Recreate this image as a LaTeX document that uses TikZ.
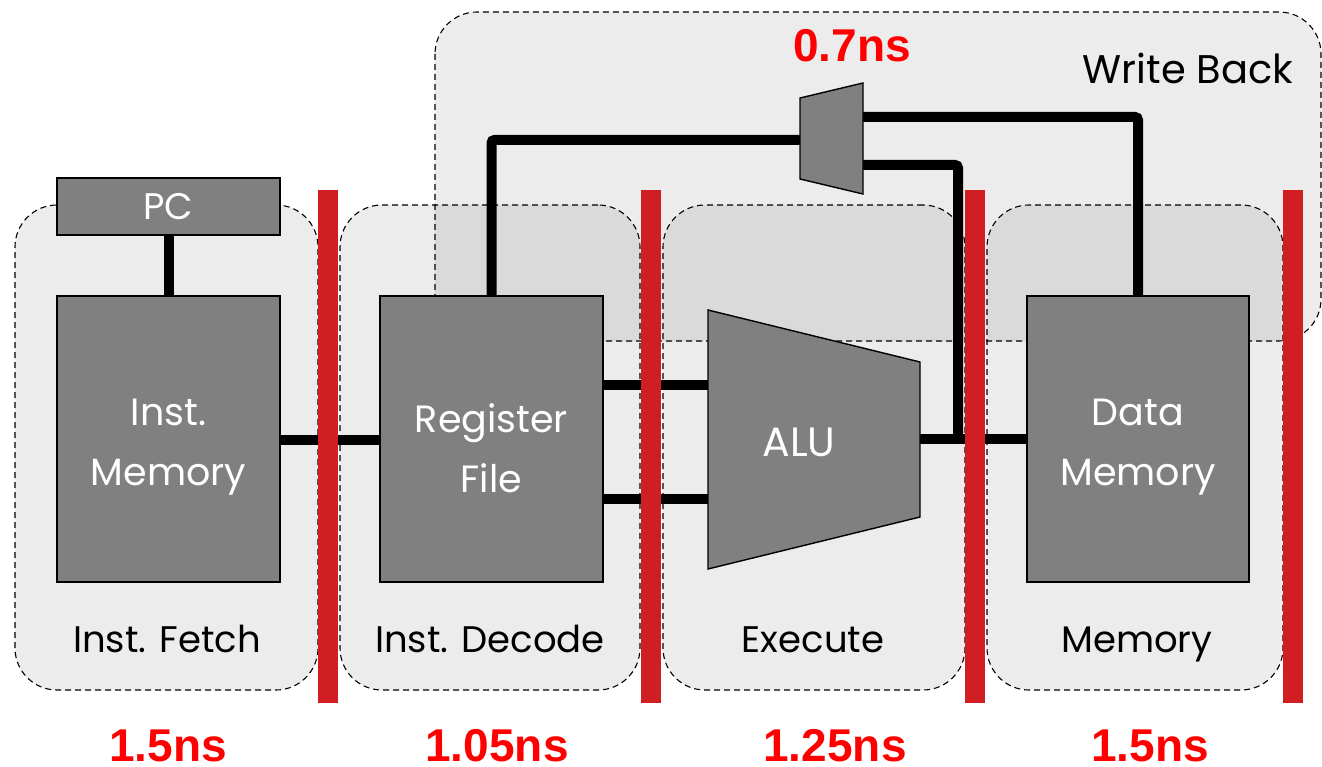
\documentclass[tikz,border=0pt]{standalone}
\usepackage{fontspec}
\setmainfont{Poppins}
\newfontfamily\timefont{Liberation Sans}
\definecolor{barred}{RGB}{208,30,35}
\definecolor{blockgray}{RGB}{128,128,128}
\definecolor{timered}{RGB}{255,0,0}
\begin{document}
\begin{tikzpicture}[x=1pt,y=-1pt,
  region/.style={draw=black, line width=1.1pt, dash pattern=on 6pt off 4pt,
    rounded corners=42pt, fill=black, fill opacity=0.075},
  block/.style={draw=black, line width=1.4pt, fill=blockgray, inner sep=0pt},
  blocktext/.style={text=white, align=center, inner sep=0pt, font=\fontsize{38}{60}\selectfont},
  latch/.style={fill=barred, draw=none, minimum width=20pt, minimum height=513pt, inner sep=0pt},
  wire/.style={line width=10pt, rounded corners=3pt},
  stagelabel/.style={anchor=base, inner sep=0pt, font=\fontsize{37}{40}\selectfont},
  timing/.style={anchor=base, inner sep=0pt, text=timered, font=\timefont\bfseries\fontsize{46}{50}\selectfont}
]
\useasboundingbox (0,0) rectangle (1322,767);

% write-back region and the four stage regions
\draw[region] (435,12) rectangle (1321,341);
\node[region, minimum width=303pt, minimum height=485pt] (ifr)  at (166.5,447.5) {};
\node[region, minimum width=300pt, minimum height=485pt] (idr)  at (490,447.5) {};
\node[region, minimum width=302pt, minimum height=485pt] (exr)  at (814,447.5) {};
\node[region, minimum width=296pt, minimum height=485pt] (memr) at (1135,447.5) {};

% stage names
\node[stagelabel, font=\fontsize{40}{44}\selectfont] (wbl) at (1188,84) {Write Back};
\node[stagelabel] (ifl)  at (167,652) {Inst. Fetch};
\node[stagelabel] (idl)  at (490,652) {Inst. Decode};
\node[stagelabel] (exl)  at (813,652) {Execute};
\node[stagelabel] (meml) at (1137,652) {Memory};

% ALU ports
\coordinate (alu-in1) at (708,385);
\coordinate (alu-in2) at (708,499);
\coordinate (alu-out) at (920,439);
% write-back mux ports
\coordinate (mux-in)  at (800,140);
\coordinate (mux-o1)  at (863,117);
\coordinate (mux-o2)  at (863,165);
\coordinate (jn)      at (958,439);

% blocks
\node[block, minimum width=223pt, minimum height=57pt, text=white,
  font=\fontsize{37}{40}\selectfont] (pc) at (168.5,206.5) {PC};
\node[block, minimum width=223pt, minimum height=286pt] (im) at (168.5,439) {};
\node[block, minimum width=223pt, minimum height=286pt] (rf) at (491.5,439) {};
\node[block, minimum width=222pt, minimum height=286pt] (dm) at (1138,439) {};
\node[blocktext] (imt) at ([yshift=-8pt]im.center) {Inst.\\Memory};
\node[blocktext] (rft) at ([yshift=-9pt]rf.center) {Register\\File};
\node[blocktext] (dmt) at ([yshift=-8pt]dm.center) {Data\\Memory};

% wires
\draw[wire] (pc.south) -- (im.north);
\draw[wire] (im.east |- 0,440) -- (rf.west |- 0,440);
\draw[wire] (rf.east |- alu-in1) -- (alu-in1);
\draw[wire] (rf.east |- alu-in2) -- (alu-in2);
\draw[wire] (alu-out) -- (dm.west |- alu-out);
\draw[wire] (rf.north) |- (mux-in);
\draw[wire] (mux-o1) -| (dm.north);
\draw[wire] (mux-o2) -| ([yshift=5pt]jn);

% ALU and mux bodies
\draw[line width=1.4pt, fill=blockgray] (708,310) -- (920,362) -- (920,517) -- (708,569) -- cycle;
\node[text=white, font=\fontsize{41}{44}\selectfont, inner sep=0pt, anchor=base] (alu) at (799,456) {ALU};
\draw[line width=1.4pt, fill=blockgray] (800,98) -- (863,83) -- (863,194) -- (800,179) -- cycle;
\node[timing] (muxt) at (852,62) {0.7ns};

% pipeline registers
\node[latch] (b1) at (328,446.5) {};
\node[latch] (b2) at (651,446.5) {};
\node[latch] (b3) at (975,446.5) {};
\node[latch] (b4) at (1293,446.5) {};

% stage delays
\node[timing] (t1) at (168,761) {1.5ns};
\node[timing] (t2) at (497,761) {1.05ns};
\node[timing] (t3) at (835,761) {1.25ns};
\node[timing] (t4) at (1150,761) {1.5ns};
\end{tikzpicture}
\end{document}
